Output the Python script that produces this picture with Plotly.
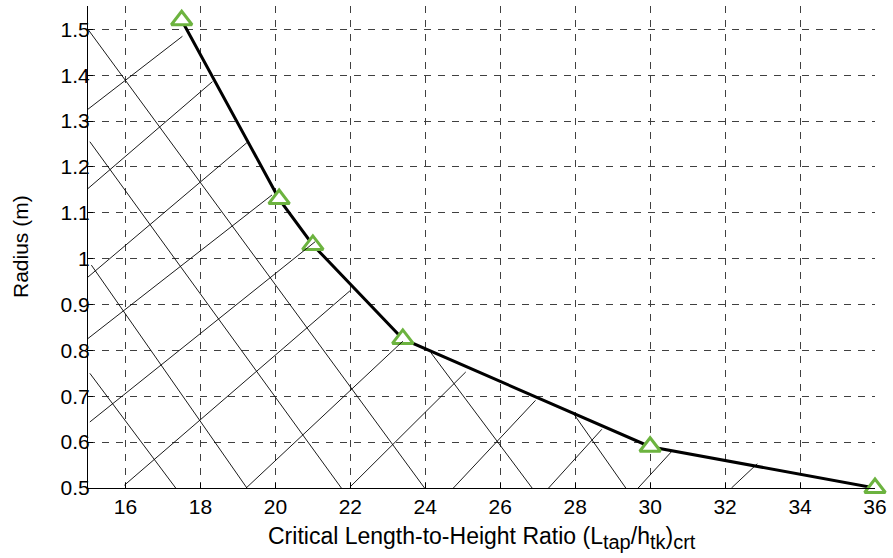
import plotly.graph_objects as go

# Critical length-to-height ratio vs. radius (boundary points)
ratio = [17.5, 20.1, 21.0, 23.4, 30.0, 36.0]
radius = [1.52, 1.13, 1.03, 0.825, 0.59, 0.50]

# Hatching of the region below the boundary curve: segment endpoints (data units)
hatch_x0 = [15.00, 15.05, 15.09, 15.05, 24.15, 27.94,
            15.00, 15.00, 15.00, 15.00, 15.05, 15.97, 19.22, 21.99, 24.75, 27.29, 29.68, 32.17]
hatch_y0 = [1.500, 1.255, 0.986, 0.750, 0.795, 0.664,
            1.326, 1.153, 0.960, 0.826, 0.644, 0.506, 0.500, 0.502, 0.500, 0.500, 0.500, 0.500]
hatch_x1 = [23.98, 21.76, 19.24, 17.34, 26.85, 29.35,
            17.52, 18.32, 19.24, 19.91, 21.06, 21.99, 23.40, 25.08, 26.94, 28.71, 30.59, 32.86]
hatch_y1 = [0.500, 0.500, 0.500, 0.500, 0.500, 0.500,
            1.485, 1.386, 1.253, 1.139, 1.037, 0.930, 0.820, 0.753, 0.691, 0.628, 0.581, 0.553]

x_ticks = [16, 18, 20, 22, 24, 26, 28, 30, 32, 34, 36]
y_ticks = [0.5, 0.6, 0.7, 0.8, 0.9, 1.0, 1.1, 1.2, 1.3, 1.4, 1.5]
y_ticktext = ["0.5", "0.6", "0.7", "0.8", "0.9", "1", "1.1", "1.2", "1.3", "1.4", "1.5"]

x_title = ("Critical Length-to-Height Ratio (L"
           "<sub><span style='font-size:20px'>tap</span></sub>/h"
           "<sub><span style='font-size:20px'>tk</span></sub>)"
           "<sub><span style='font-size:20px'>crt</span></sub>")
y_title = "Radius (m)"

FONT = "Liberation Sans, Arial, Helvetica, sans-serif"

hx, hy = [], []
for a, b, c, d in zip(hatch_x0, hatch_y0, hatch_x1, hatch_y1):
    hx += [a, c, None]
    hy += [b, d, None]

fig = go.Figure()

fig.add_trace(go.Scatter(
    x=ratio, y=radius, mode="lines+markers",
    line=dict(color="black", width=3),
    marker=dict(symbol="triangle-up", size=18, color="white",
                line=dict(color="#6CB33F", width=3)),
    showlegend=False, cliponaxis=False,
))

fig.add_trace(go.Scatter(
    x=hx, y=hy, mode="lines",
    line=dict(color="black", width=0.9),
    showlegend=False, hoverinfo="skip",
))

axis_common = dict(
    showgrid=True, gridcolor="#404040", gridwidth=1, griddash="7px,7px",
    showline=True, linecolor="black", linewidth=1,
    ticks="inside", ticklen=5, tickcolor="black",
    zeroline=False, mirror=False,
    tickfont=dict(family=FONT, size=21, color="black"),
)

fig.update_layout(
    width=893, height=558,
    margin=dict(l=88, r=13, t=6, b=70),
    paper_bgcolor="white", plot_bgcolor="white",
    font=dict(family=FONT, color="black"),
    xaxis=dict(range=[15, 36], tickvals=x_ticks, ticktext=[str(v) for v in x_ticks],
               **axis_common),
    yaxis=dict(range=[0.5, 1.551], tickvals=y_ticks, ticktext=y_ticktext,
               ticklabelstandoff=-7, **axis_common),
)

# Axis titles
fig.add_annotation(text=x_title, xref="paper", yref="paper", x=0.5, y=0,
                   yshift=-50, xanchor="center", yanchor="middle", showarrow=False,
                   font=dict(family=FONT, size=23, color="black"))
fig.add_annotation(text=y_title, xref="paper", yref="paper", x=0, y=0.5,
                   xshift=-68, textangle=-90, xanchor="center", yanchor="middle",
                   showarrow=False, font=dict(family=FONT, size=21, color="black"))

fig.write_html("out.html")
